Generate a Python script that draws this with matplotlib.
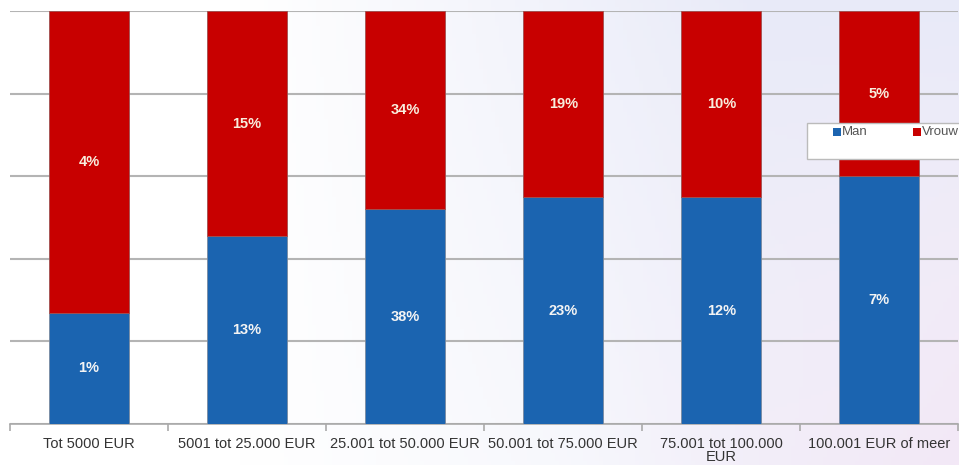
import numpy as np
import matplotlib
matplotlib.use('Agg')
import matplotlib.pyplot as plt
from matplotlib.patches import Rectangle

# categories and values
categories = ['Tot 5000 EUR', '5001 tot 25.000 EUR', '25.001 tot 50.000 EUR',
              '50.001 tot 75.000 EUR', '75.001 tot 100.000\nEUR', '100.001 EUR of meer']
man_share = [0.27, 0.455, 0.52, 0.55, 0.55, 0.60]      # blue part of each 100% bar
man_labels = ['1%', '13%', '38%', '23%', '12%', '7%']
vrouw_labels = ['4%', '15%', '34%', '19%', '10%', '5%']
series = ['Man', 'Vrouw']

blue = '#1b64b0'
red = '#c80000'

plt.rcParams['font.family'] = ['Liberation Sans', 'DejaVu Sans']

W, H = 959, 465
fig = plt.figure(figsize=(W / 100, H / 100), dpi=100)

# white -> lavender background, pinkish towards the bottom right
bg = fig.add_axes([0, 0, 1, 1], zorder=0)
xx, yy = np.meshgrid(np.linspace(0, 1, 240), np.linspace(0, 1, 120))  # yy: 0 at top
a = np.clip((xx - 0.25) / 0.55, 0, 1) * (1 - 0.45 * yy)
b = np.clip((xx - 0.6) / 0.4, 0, 1) * yy
white = np.array([1.0, 1.0, 1.0])
lav = np.array([232, 234, 248]) / 255
pink = np.array([243, 232, 246]) / 255
img = white * (1 - a[..., None]) + lav * a[..., None]
img = img * (1 - b[..., None]) + pink * b[..., None]
bg.imshow(img, aspect='auto', origin='upper', extent=[0, 1, 0, 1])
bg.axis('off')

ax = fig.add_axes([0.0104, 0.088, 0.989, 0.888], zorder=1)
ax.set_facecolor('none')

x = np.arange(len(categories))
man = np.array(man_share)
vrouw = 1 - man

ax.bar(x, man, width=0.505, color=blue, edgecolor='#7a8aa0', linewidth=0.6, zorder=3)
ax.bar(x, vrouw, bottom=man, width=0.505, color=red, edgecolor='#a05050', linewidth=0.6, zorder=3)

for i in range(len(x)):
    ax.text(x[i], man[i] / 2, man_labels[i], ha='center', va='center',
            color='#f4f4f4', fontsize=10.5, fontweight='bold', zorder=4)
    ax.text(x[i], man[i] + vrouw[i] / 2, vrouw_labels[i], ha='center', va='center',
            color='#f8eede', fontsize=10.5, fontweight='bold', zorder=4)

ax.set_xlim(-0.5, len(categories) - 0.5)
ax.set_ylim(0, 1)
ax.set_yticks(np.linspace(0, 1, 6))
ax.yaxis.grid(True, color='#b4b4b4', linewidth=1.5, zorder=0)
ax.tick_params(axis='y', left=False, labelleft=False)

ax.set_xticks(x)
ax.set_xticklabels(categories, fontsize=10.5, color='#333333', linespacing=0.95)
ax.tick_params(axis='x', length=0, pad=9)
ax.set_xticks(np.arange(-0.5, len(categories)), minor=True)
ax.tick_params(axis='x', which='minor', length=5, color='#aaaaaa', width=1.2)

for s in ['top', 'right', 'left']:
    ax.spines[s].set_visible(False)
ax.spines['bottom'].set_color('#aaaaaa')
ax.spines['bottom'].set_linewidth(1.2)

# legend box, running off the right edge as in the original
def fx(px):
    return px / W

def fy(py):
    return 1 - py / H

fig.patches.append(Rectangle((fx(807), fy(159)), fx(170), 36 / H, transform=fig.transFigure,
                             facecolor='white', edgecolor='#bbbbbb', linewidth=1, zorder=5))
for j, (name, col) in enumerate(zip(series, [blue, red])):
    sx = 833 + j * 80
    fig.patches.append(Rectangle((fx(sx), fy(136)), fx(8), 8 / H, transform=fig.transFigure,
                                 facecolor=col, edgecolor='none', zorder=6))
    fig.text(fx(sx + 9), fy(132), name, fontsize=9.5, color='#555555', va='center',
             ha='left', zorder=6)

fig.savefig('out.png', dpi=100)
